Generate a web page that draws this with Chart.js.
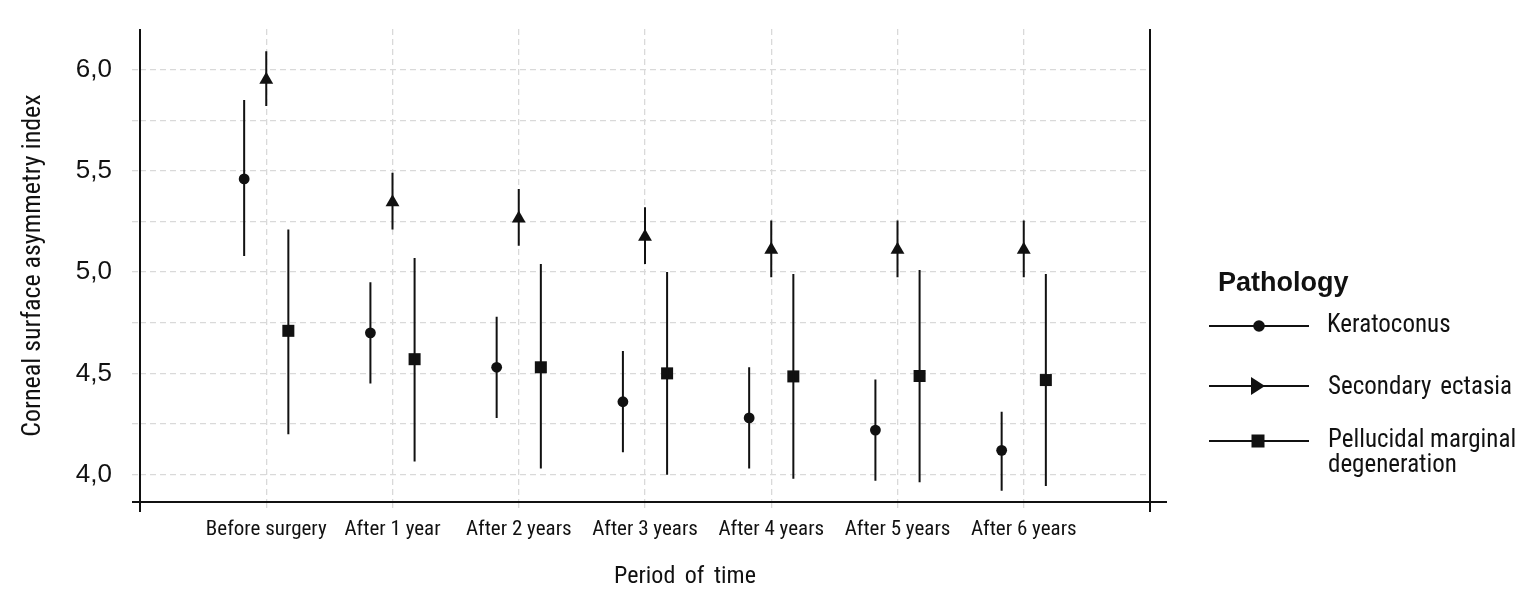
<!DOCTYPE html>
<html>
<head>
<meta charset="utf-8">
<script src="https://cdn.jsdelivr.net/npm/chart.js@4.4.1/dist/chart.umd.min.js"></script>
<style>
    body { margin: 0; background: #fff; }
    #wrap { position: relative; width: 1530px; height: 600px; }
    #xtitle {
        position: absolute; left: 685px; top: 563px; transform: translateX(-50%);
        font: 24px "Roboto Condensed", "Liberation Sans", sans-serif;
        line-height: 24px; word-spacing: 4px; color: #111; white-space: nowrap;
    }
    .leg { position: absolute; color: #111; white-space: nowrap; }
    .legTitle { font: bold 27px "Liberation Sans", Arial, sans-serif; line-height: 27px; }
    .legItem { font: 25px "Roboto Condensed", "Liberation Sans", sans-serif; line-height: 25px; }
    #legSymbols { position: absolute; left: 1200px; top: 300px; }
</style>
</head>
<body>
<div id="wrap">
    <canvas id="myChart"></canvas>
    <div id="xtitle">Period of time</div>
    <div class="leg legTitle" style="left:1218px; top:269px;">Pathology</div>
    <div class="leg legItem" style="left:1327px; top:311px;">Keratoconus</div>
    <div class="leg legItem" style="left:1328px; top:373px; word-spacing:3px;">Secondary ectasia</div>
    <div class="leg legItem" style="left:1328px; top:426px;">Pellucidal marginal<br>degeneration</div>
    <svg id="legSymbols" width="120" height="160">
        <g stroke="#111" stroke-width="2">
            <line x1="9" y1="26" x2="109" y2="26"/>
            <line x1="9" y1="86" x2="109" y2="86"/>
            <line x1="9" y1="141" x2="109" y2="141"/>
        </g>
        <g fill="#111">
            <circle cx="59" cy="26" r="5.8"/>
            <polygon points="51,77 65,86 51,95"/>
            <rect x="51.5" y="134.5" width="13" height="13"/>
        </g>
    </svg>
</div>
<script>
const labels = ['Before surgery', 'After 1 year', 'After 2 years', 'After 3 years',
    'After 4 years', 'After 5 years', 'After 6 years'];

// Keratoconus
const keratoMean = [5.46, 4.70, 4.53, 4.36, 4.28, 4.22, 4.12];
const keratoLow  = [5.08, 4.45, 4.28, 4.11, 4.03, 3.97, 3.92];
const keratoHigh = [5.85, 4.95, 4.78, 4.61, 4.53, 4.47, 4.31];

// Secondary ectasia
const ectasiaMean = [5.95, 5.345, 5.265, 5.175, 5.11, 5.11, 5.11];
const ectasiaLow  = [5.82, 5.21, 5.13, 5.04, 4.975, 4.975, 4.975];
const ectasiaHigh = [6.09, 5.49, 5.41, 5.32, 5.255, 5.255, 5.255];

// Pellucidal marginal degeneration
const pmdMean = [4.71, 4.57, 4.53, 4.50, 4.485, 4.487, 4.467];
const pmdLow  = [4.20, 4.065, 4.03, 4.00, 3.98, 3.962, 3.944];
const pmdHigh = [5.21, 5.07, 5.04, 5.00, 4.99, 5.01, 4.99];

const yTicks = [4.0, 4.25, 4.5, 4.75, 5.0, 5.25, 5.5, 5.75, 6.0];

const DODGE = 0.175;
const INK = '#111';
const GRID = '#d9d9d9';
const NARROW = '"Roboto Condensed", "Liberation Sans", sans-serif';

function points(mean, shift) {
    return mean.map((v, i) => ({ x: i + shift, y: v }));
}

// vertical ranges, broken by null points
function ranges(low, high, shift) {
    const out = [];
    low.forEach((lo, i) => {
        out.push({ x: i + shift, y: lo }, { x: i + shift, y: high[i] }, { x: i + shift, y: null });
    });
    return out;
}

function rangeSet(low, high, shift) {
    return {
        data: ranges(low, high, shift),
        showLine: true,
        spanGaps: false,
        borderColor: INK,
        borderWidth: 2,
        pointRadius: 0,
        pointHoverRadius: 0
    };
}

function markerSet(mean, shift, style, radius) {
    return {
        data: points(mean, shift),
        pointStyle: style,
        pointRadius: radius,
        pointHoverRadius: radius,
        backgroundColor: INK,
        borderColor: INK,
        borderWidth: 0,
        showLine: false
    };
}

const framePlugin = {
    id: 'frame',
    afterDraw(chart) {
        const { ctx, chartArea: a } = chart;
        ctx.save();
        ctx.strokeStyle = INK;
        ctx.lineWidth = 2;
        ctx.beginPath();
        ctx.moveTo(a.left, a.top); ctx.lineTo(a.left, a.bottom + 10);
        ctx.moveTo(a.right, a.top); ctx.lineTo(a.right, a.bottom + 10);
        ctx.moveTo(a.left - 8, a.bottom); ctx.lineTo(a.right + 17, a.bottom);
        ctx.stroke();
        ctx.restore();
    }
};

const config = {
    type: 'scatter',
    data: {
        datasets: [
            rangeSet(keratoLow, keratoHigh, -DODGE),
            rangeSet(ectasiaLow, ectasiaHigh, 0),
            rangeSet(pmdLow, pmdHigh, DODGE),
            markerSet(keratoMean, -DODGE, 'circle', 5.4),
            markerSet(ectasiaMean, 0, 'triangle', 8),
            markerSet(pmdMean, DODGE, 'rect', 8.5)
        ]
    },
    options: {
        responsive: true,
        maintainAspectRatio: false,
        animation: false,
        layout: {
            padding: { top: 29, right: 380, left: 0, bottom: 0 }
        },
        plugins: {
            legend: { display: false },
            tooltip: { enabled: false }
        },
        scales: {
            x: {
                type: 'linear',
                min: -1,
                max: 7,
                afterBuildTicks: (s) => { s.ticks = labels.map((_, i) => ({ value: i })); },
                afterFit: (s) => { s.height = 98; s.paddingLeft = 0; s.paddingRight = 0; },
                ticks: {
                    autoSkip: false,
                    maxRotation: 0,
                    padding: 5,
                    color: INK,
                    font: { family: NARROW, size: 21 },
                    callback: (v) => labels[v]
                },
                grid: {
                    color: GRID,
                    lineWidth: 1.3,
                    tickLength: 10,
                    tickColor: GRID,
                    tickBorderDash: [6, 4]
                },
                border: { display: false, dash: [6, 4] }
            },
            y: {
                min: 3.865,
                max: 6.2,
                afterBuildTicks: (s) => { s.ticks = yTicks.map(v => ({ value: v })); },
                afterFit: (s) => { s.width = 140; s.paddingTop = 0; s.paddingBottom = 0; },
                ticks: {
                    padding: 20,
                    color: INK,
                    font: { family: '"Liberation Sans", Arial, sans-serif', size: 26 },
                    callback: (v) => (Math.abs(v * 2 - Math.round(v * 2)) < 1e-6 ? v.toFixed(1).replace('.', ',') : '')
                },
                grid: {
                    color: GRID,
                    lineWidth: 1.3,
                    tickLength: 8,
                    tickColor: GRID,
                    tickBorderDash: [6, 4]
                },
                border: { display: false, dash: [6, 4] },
                title: {
                    display: true,
                    text: 'Corneal surface asymmetry index',
                    color: INK,
                    padding: { top: 18, bottom: 0 },
                    font: { family: NARROW, size: 26 }
                }
            }
        }
    },
    plugins: [framePlugin]
};

const myChart = new Chart(
    document.getElementById('myChart'),
    config
);
</script>
</body>
</html>
